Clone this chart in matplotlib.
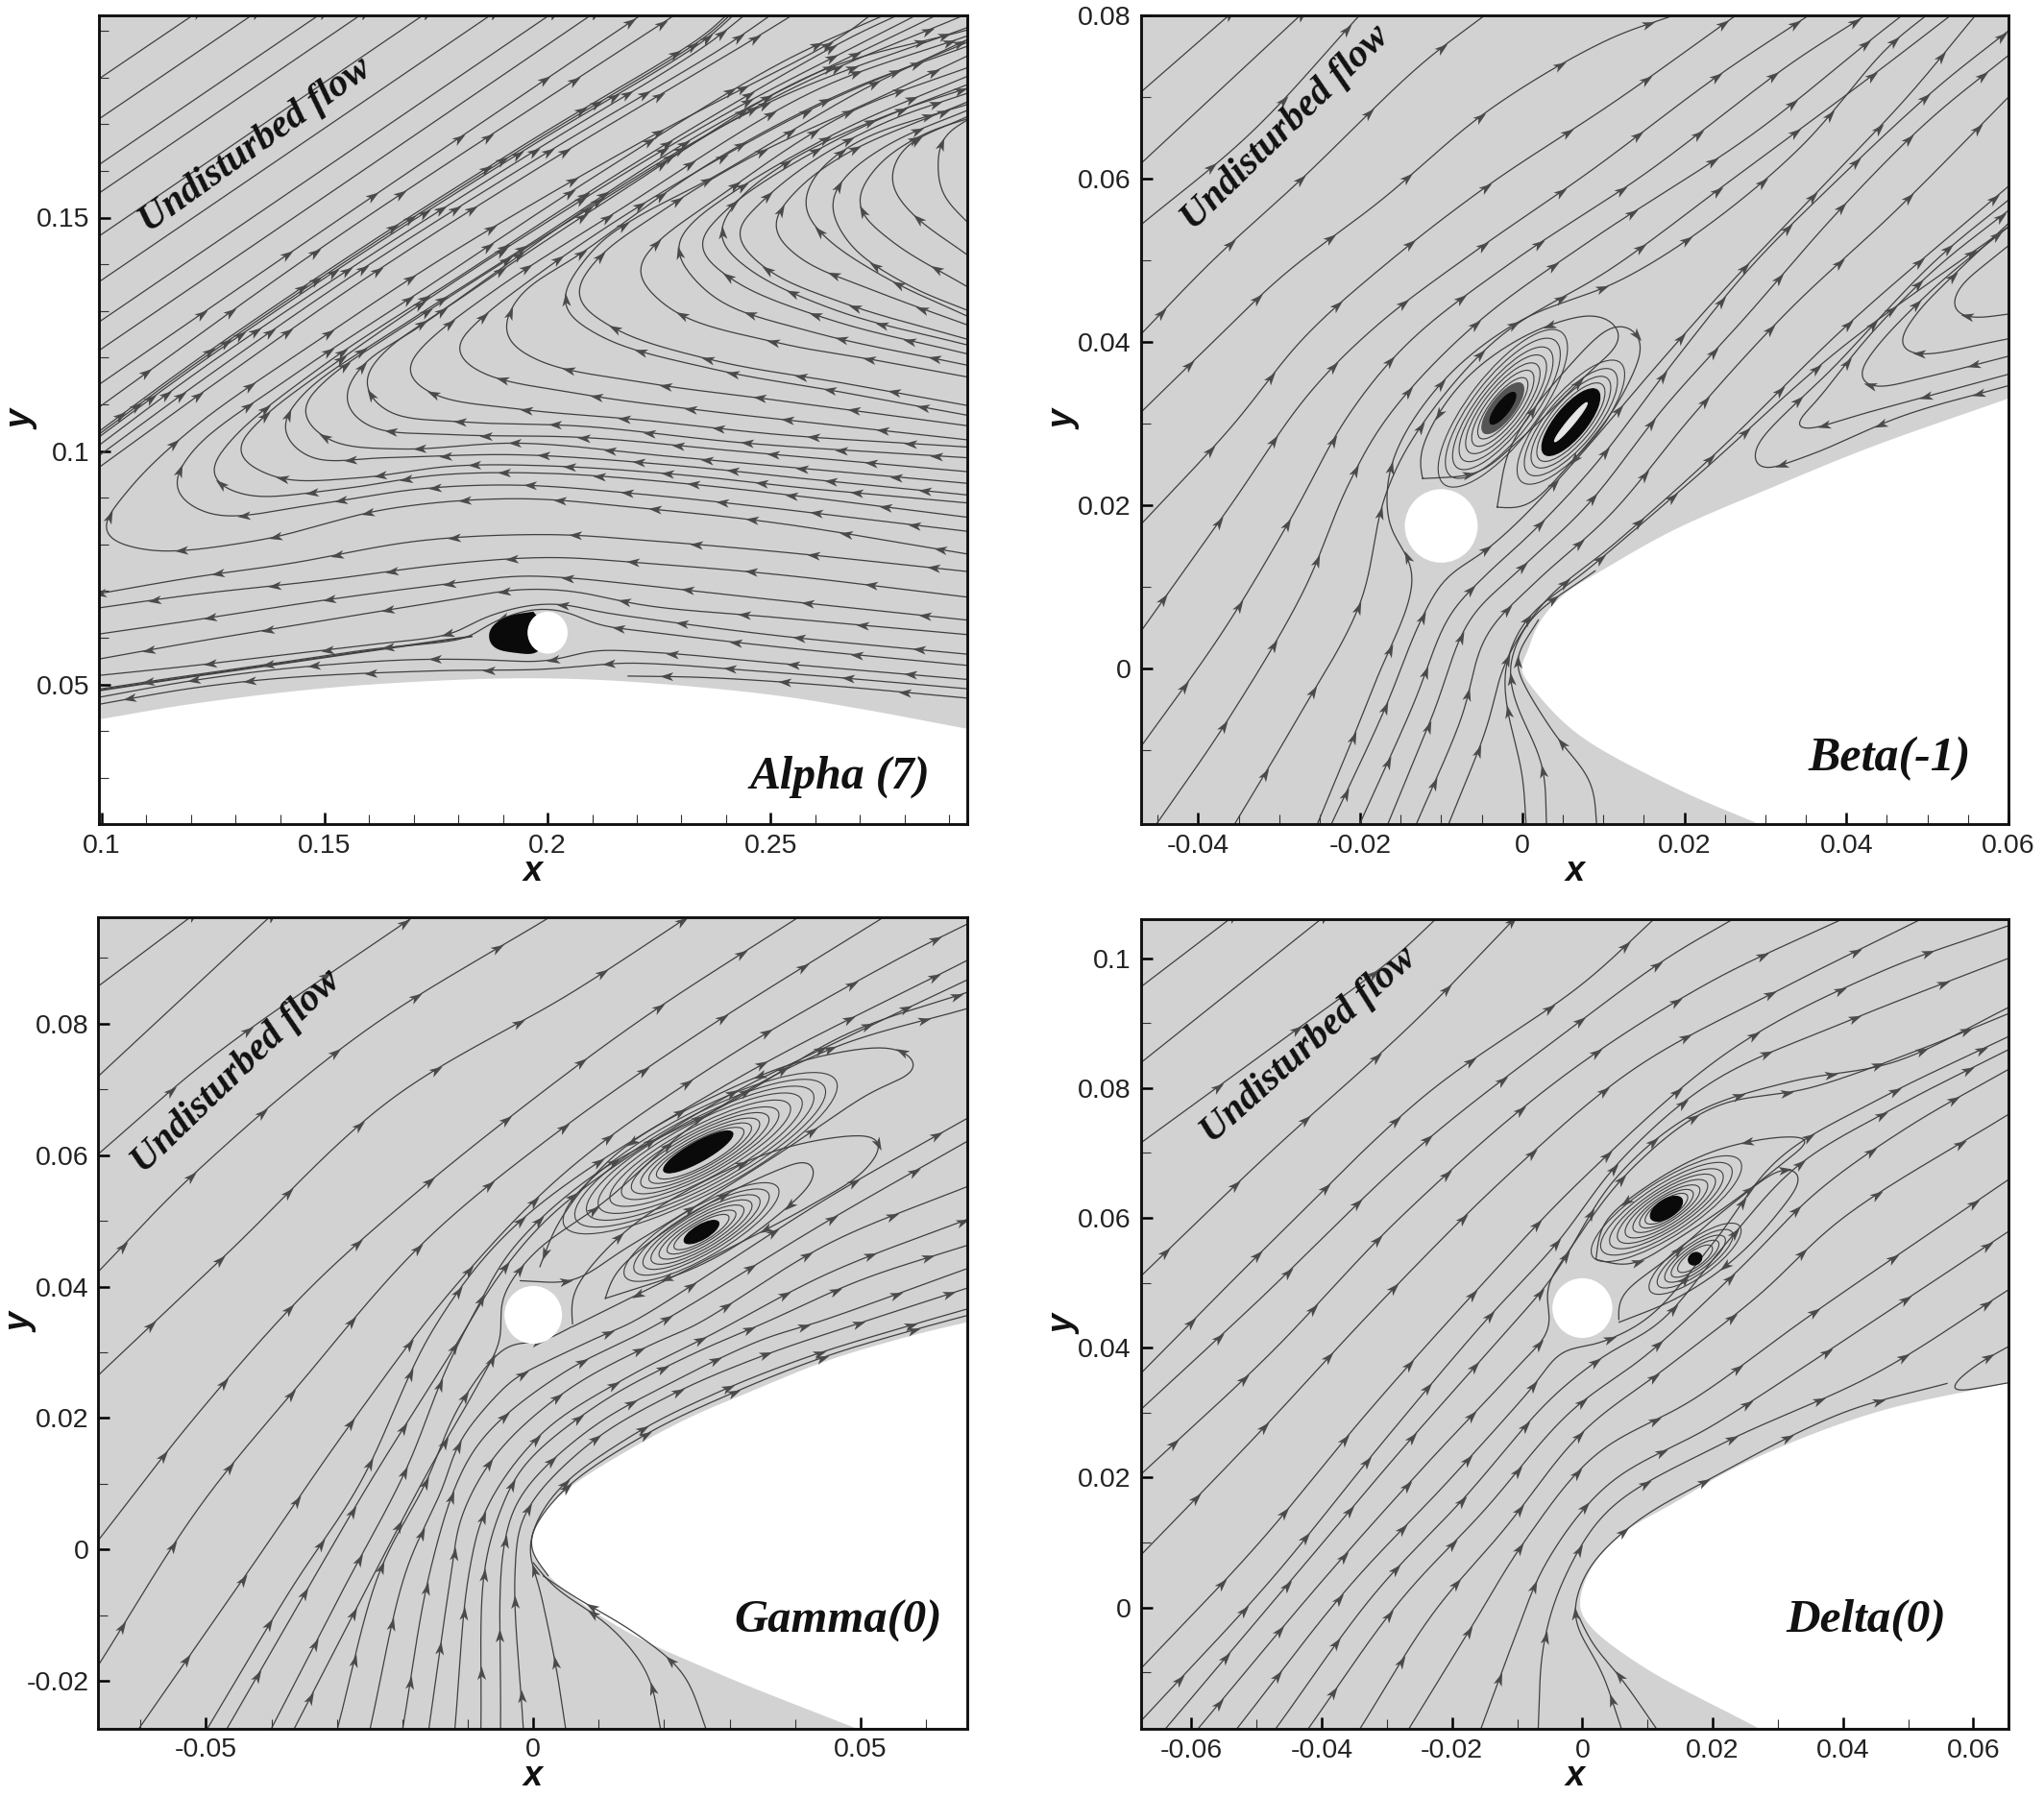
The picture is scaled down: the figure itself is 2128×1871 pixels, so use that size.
import numpy as np
import matplotlib
matplotlib.use("Agg")
import matplotlib.pyplot as plt
from matplotlib.patches import Ellipse, Polygon
from matplotlib.markers import MarkerStyle
from matplotlib.path import Path
from matplotlib.transforms import Affine2D
from matplotlib.ticker import FixedLocator, FixedFormatter

plt.rcParams['font.family'] = ['Liberation Sans', 'DejaVu Sans']

# ---------- Panel A ----------
A_xlim = (0.0994, 0.2941); A_ylim = (0.0201, 0.1933)
A_xticks = [0.1, 0.15, 0.2, 0.25]; A_xlabels = ['0.1', '0.15', '0.2', '0.25']
A_yticks = [0.05, 0.1, 0.15]; A_ylabels = ['0.05', '0.1', '0.15']
A_xminor = [0.11,0.12,0.13,0.14,0.16,0.17,0.18,0.19,0.21,0.22,0.23,0.24,0.26,0.27,0.28,0.29]
A_yminor = [0.03,0.04,0.06,0.07,0.08,0.09,0.11,0.12,0.13,0.14,0.16,0.17,0.18,0.19]
A_body = [(0.0994,0.0425),(0.12,0.0458),(0.15,0.0492),(0.18,0.0510),(0.20,0.0513),(0.22,0.0505),(0.25,0.0478),(0.27,0.0448),(0.2941,0.0405)]
A_circle = (0.2, 0.0611, 0.0045)
A_wake = [(0.1968,0.0656),(0.1907,0.0645),(0.1870,0.0619),(0.1868,0.0594),(0.1879,0.0578),(0.1935,0.0567),(0.1977,0.0567),(0.2,0.0611)]
A_free = [
 [(0.098,0.1788),(0.1215,0.1940)],
 [(0.098,0.1702),(0.1347,0.1940)],
 [(0.098,0.1604),(0.1497,0.1940)],
 [(0.098,0.1543),(0.1590,0.1940)],
 [(0.098,0.1451),(0.1731,0.1940)],
 [(0.098,0.1353),(0.1882,0.1940)],
 [(0.098,0.1267),(0.2014,0.1940)],
 [(0.098,0.1206),(0.2107,0.1940)],
 [(0.098,0.1133),(0.150,0.1475),(0.2219,0.1940)],
 [(0.098,0.1084),(0.150,0.1440),(0.2295,0.1940)],
]
A_band = [
 [(0.098,0.1032),(0.1216,0.1197),(0.1585,0.1436),(0.1966,0.1667),(0.2354,0.1893),(0.2408,0.1940)],
 [(0.098,0.1026),(0.1216,0.1191),(0.1585,0.1430),(0.1966,0.1661),(0.2354,0.1887),(0.2416,0.1940)],
 [(0.098,0.1020),(0.1216,0.1185),(0.1585,0.1424),(0.1966,0.1655),(0.2354,0.1881),(0.2424,0.1940)],
 [(0.098,0.1002),(0.1216,0.1170),(0.1585,0.1408),(0.1966,0.1640),(0.2354,0.1868),(0.2450,0.1940)],
 [(0.098,0.0980),(0.1230,0.1155),(0.1585,0.1390),(0.2000,0.1640),(0.2400,0.1868),(0.2510,0.1940)],
 [(0.098,0.0955),(0.1240,0.1135),(0.1600,0.1375),(0.2020,0.1630),(0.2420,0.1858),(0.2560,0.1940)],
]
A_turn = [
 [(0.295,0.0778),(0.2520,0.0845),(0.2227,0.0876),(0.1934,0.0898),(0.1641,0.0876),(0.1348,0.0808),(0.1100,0.0788),(0.1004,0.0827),(0.1056,0.0912),(0.1202,0.1047),(0.1495,0.1243),(0.1788,0.1427),(0.2227,0.1671),(0.2666,0.1892),(0.2732,0.1940)],
 [(0.295,0.0827),(0.2520,0.0876),(0.2227,0.0906),(0.1934,0.0927),(0.1714,0.0919),(0.1495,0.0888),(0.1246,0.0864),(0.1165,0.0919),(0.1202,0.0998),(0.1422,0.1157),(0.1714,0.1341),(0.2081,0.1573),(0.2520,0.1830),(0.2770,0.1940)],
 [(0.295,0.0857),(0.2593,0.0900),(0.2300,0.0931),(0.2007,0.0952),(0.1758,0.0949),(0.1539,0.0919),(0.1319,0.0906),(0.1246,0.0949),(0.1290,0.1023),(0.1495,0.1182),(0.1788,0.1365),(0.2227,0.1635),(0.2666,0.1879),(0.2800,0.1940)],
 [(0.295,0.0888),(0.2593,0.0919),(0.2300,0.0949),(0.2007,0.0968),(0.1788,0.0968),(0.1583,0.0943),(0.1392,0.0943),(0.1305,0.0998),(0.1348,0.1059),(0.1568,0.1218),(0.1934,0.1451),(0.2373,0.1708),(0.2840,0.1940)],
 [(0.295,0.0905),(0.2593,0.0939),(0.2300,0.0968),(0.1934,0.0992),(0.1641,0.0986),(0.1466,0.0986),(0.1407,0.1047),(0.1451,0.1121),(0.1671,0.1267),(0.1934,0.1427),(0.2373,0.1696),(0.2886,0.1940)],
 [(0.295,0.0930),(0.2300,0.0986),(0.1934,0.1017),(0.1671,0.1004),(0.1510,0.1023),(0.1451,0.1084),(0.1495,0.1145),(0.1700,0.1280),(0.2081,0.1512),(0.2520,0.1763),(0.2950,0.1940)],
 [(0.295,0.0955),(0.2443,0.0998),(0.2081,0.1029),(0.1788,0.1035),(0.1598,0.1053),(0.1546,0.1108),(0.1583,0.1182),(0.1714,0.1267),(0.2154,0.1561),(0.2520,0.1757),(0.295,0.1910)],
 [(0.295,0.0985),(0.2443,0.1017),(0.2081,0.1053),(0.1817,0.1062),(0.1641,0.1084),(0.1590,0.1145),(0.1627,0.1206),(0.1788,0.1316),(0.2154,0.1549),(0.2593,0.1806),(0.295,0.1904)],
 [(0.295,0.1008),(0.2520,0.1035),(0.2227,0.1065),(0.1934,0.1090),(0.1744,0.1121),(0.1685,0.1170),(0.1714,0.1218),(0.1876,0.1341),(0.2154,0.1512),(0.2593,0.1769),(0.295,0.1892)],
 [(0.295,0.1023),(0.2666,0.1053),(0.2373,0.1084),(0.2081,0.1121),(0.1846,0.1170),(0.1795,0.1218),(0.1832,0.1267),(0.1978,0.1378),(0.2227,0.1537),(0.2593,0.1733),(0.295,0.1879)],
 [(0.295,0.1053),(0.2520,0.1108),(0.2227,0.1145),(0.1978,0.1194),(0.1905,0.1250),(0.1934,0.1329),(0.2081,0.1427),(0.2373,0.1622),(0.2666,0.1769),(0.295,0.1870)],
 [(0.295,0.1075),(0.2666,0.1125),(0.2373,0.1175),(0.2120,0.1245),(0.2035,0.1316),(0.2104,0.1433),(0.2190,0.1495),(0.2365,0.1583),(0.2537,0.1680),(0.2709,0.1775),(0.295,0.1885)],
 [(0.295,0.1096),(0.2666,0.1145),(0.2373,0.1194),(0.2150,0.1262),(0.2066,0.1332),(0.2110,0.1410),(0.2250,0.1510),(0.2447,0.1625),(0.2739,0.1755),(0.295,0.1850)],
 [(0.295,0.1157),(0.2739,0.1194),(0.2520,0.1231),(0.2285,0.1298),(0.2203,0.1384),(0.2235,0.1437),(0.2373,0.1537),(0.2666,0.1720),(0.295,0.1824)],
 [(0.295,0.1182),(0.2593,0.1255),(0.2373,0.1329),(0.2289,0.1433),(0.2315,0.1480),(0.2417,0.1555),(0.2666,0.1690),(0.295,0.1806)],
 [(0.295,0.1206),(0.2637,0.1280),(0.2417,0.1365),(0.2341,0.1440),(0.2388,0.1505),(0.2490,0.1580),(0.2710,0.1696),(0.295,0.1788)],
 [(0.295,0.1225),(0.2650,0.1300),(0.2450,0.1390),(0.2386,0.1460),(0.2420,0.1530),(0.2540,0.1620),(0.2750,0.1715),(0.295,0.1780)],
 [(0.295,0.1237),(0.2666,0.1316),(0.2490,0.1390),(0.2425,0.1466),(0.2476,0.1530),(0.2593,0.1620),(0.2760,0.1705),(0.295,0.1769)],
 [(0.295,0.1267),(0.2739,0.1341),(0.2564,0.1414),(0.2507,0.1481),(0.2549,0.1549),(0.2666,0.1635),(0.295,0.1751)],
 [(0.295,0.1285),(0.2760,0.1370),(0.2620,0.1460),(0.2576,0.1522),(0.2600,0.1590),(0.2700,0.1665),(0.295,0.1745)],
 [(0.295,0.1298),(0.2813,0.1353),(0.2681,0.1439),(0.2636,0.1528),(0.2666,0.1586),(0.2769,0.1659),(0.295,0.1733)],
 [(0.295,0.1347),(0.2769,0.1451),(0.2696,0.1528),(0.2739,0.1610),(0.2842,0.1678),(0.295,0.1714)],
 [(0.295,0.1414),(0.2813,0.1512),(0.2770,0.1577),(0.2798,0.1647),(0.295,0.1720)],
 [(0.295,0.1482),(0.2886,0.1549),(0.2875,0.1604),(0.2886,0.1671),(0.295,0.1714)],
]
A_low = [
 [(0.295,0.0741),(0.2520,0.0784),(0.2227,0.0808),(0.2007,0.0821),(0.1714,0.0808),(0.1422,0.0759),(0.1202,0.0729),(0.098,0.0692)],
 [(0.295,0.0686),(0.2520,0.0735),(0.2227,0.0759),(0.2007,0.0772),(0.1788,0.0759),(0.1495,0.0723),(0.1202,0.0692),(0.098,0.0662)],
 [(0.295,0.0637),(0.2520,0.0680),(0.2227,0.0711),(0.2051,0.0728),(0.1934,0.0732),(0.1788,0.0717),(0.1495,0.0680),(0.1202,0.0637),(0.098,0.0606)],
 [(0.295,0.0606),(0.2520,0.0643),(0.2227,0.0668),(0.2051,0.0700),(0.1934,0.0703),(0.1788,0.0682),(0.1422,0.0625),(0.1202,0.0590),(0.098,0.0552)],
 [(0.295,0.0564),(0.2520,0.0604),(0.2227,0.0640),(0.2120,0.0655),(0.2030,0.0672),(0.1950,0.0668),(0.1850,0.0640),(0.1790,0.0610),(0.1600,0.0585),(0.1422,0.0565),(0.1202,0.0540),(0.098,0.0518)],
 [(0.295,0.0540),(0.2520,0.0580),(0.2250,0.0610),(0.2105,0.0630),(0.2060,0.0650),(0.2020,0.0660),(0.1960,0.0660),(0.1860,0.0625),(0.1830,0.0603),(0.1600,0.0575),(0.1422,0.0550),(0.1202,0.0520),(0.098,0.0488)],
 [(0.295,0.0510),(0.2520,0.0545),(0.2250,0.0568),(0.2100,0.0572),(0.2040,0.0558),(0.1980,0.0549),(0.1860,0.0553),(0.1690,0.0553),(0.1422,0.0535),(0.1202,0.0508),(0.098,0.0470)],
 [(0.295,0.0490),(0.2520,0.0525),(0.2180,0.0546),(0.2090,0.0540),(0.1980,0.0532),(0.1780,0.0530),(0.1422,0.0515),(0.1202,0.0492),(0.098,0.0455)],
 [(0.295,0.0470),(0.2600,0.0500),(0.2350,0.0515),(0.2180,0.0518)],
]
A_thin = [(0.1830,0.0603),(0.1600,0.0572),(0.1422,0.0547),(0.1202,0.0517),(0.098,0.0485)]

# ---------- Panel B ----------
B_xlim = (-0.0471, 0.0600); B_ylim = (-0.0190, 0.0800)
B_xticks = [-0.04,-0.02,0,0.02,0.04,0.06]; B_xlabels = ['-0.04','-0.02','0','0.02','0.04','0.06']
B_yticks = [0,0.02,0.04,0.06,0.08]; B_ylabels = ['0','0.02','0.04','0.06','0.08']
B_xminor = [-0.045,-0.035,-0.03,-0.025,-0.015,-0.01,-0.005,0.005,0.01,0.015,0.025,0.03,0.035,0.045,0.05,0.055]
B_yminor = [-0.01,0.01,0.03,0.05,0.07]
B_body = [(0.0292,-0.0190),(0.0187,-0.0145),(0.0066,-0.0078),(0.0010,-0.0020),(-0.0002,0.0),(0.0006,0.0020),(0.0020,0.0055),(0.0050,0.0090),(0.0106,0.0125),(0.0187,0.0170),(0.0308,0.0222),(0.0429,0.0271),(0.0600,0.0331)]
B_circle = (-0.0100, 0.0175, 0.0045)
B_lines = [
 [(-0.048,0.0698),(-0.0361,0.0801)],
 [(-0.048,0.0610),(-0.0273,0.0801)],
 [(-0.048,0.0536),(-0.0335,0.0656),(-0.0200,0.0801)],
 [(-0.048,0.0400),(-0.0382,0.0500),(-0.0272,0.0600),(-0.0125,0.0740),(-0.0045,0.0801)],
 [(-0.048,0.0305),(-0.0385,0.0397),(-0.0295,0.0482),(-0.0175,0.0573),(-0.0040,0.0685),(0.0105,0.0770),(0.0190,0.0801)],
 [(-0.048,0.0167),(-0.0360,0.0295),(-0.0270,0.0405),(-0.0175,0.0490),(-0.0045,0.0590),(0.0115,0.0695),(0.0265,0.0801)],
 [(-0.048,0.0033),(-0.0360,0.0200),(-0.0265,0.0335),(-0.0180,0.0420),(-0.0060,0.0510),(0.0085,0.0610),(0.0240,0.0725),(0.0355,0.0801)],
 [(-0.048,-0.0108),(-0.0370,0.0045),(-0.0285,0.0185),(-0.0215,0.0310),(-0.0140,0.0400),(-0.0010,0.0500),(0.0150,0.0605),(0.0330,0.0740),(0.0425,0.0801)],
 [(-0.0455,-0.0195),(-0.0365,-0.0065),(-0.0270,0.0095),(-0.0215,0.0225),(-0.0165,0.0310),(-0.0060,0.0420),(0.0085,0.0525),(0.0285,0.0655),(0.0430,0.0770),(0.0470,0.0801)],
 [(-0.0358,-0.0195),(-0.0280,-0.0065),(-0.0200,0.0080),(-0.0170,0.0210),(-0.0130,0.0290),(-0.0030,0.0405),(0.0110,0.0490),(0.0260,0.0600),(0.0430,0.0725),(0.0530,0.0801)],
 [(-0.0255,-0.0195),(-0.0185,-0.0025),(-0.0135,0.0115),(-0.0165,0.0180),(-0.0160,0.0255),(-0.0100,0.0350),(-0.0005,0.0425),(0.0120,0.0475),(0.0225,0.0540),(0.0345,0.0640),(0.0450,0.0760),(0.0500,0.0801)],
 [(-0.0238,-0.0195),(-0.0170,-0.0050),(-0.0125,0.0060),(-0.0095,0.0110),(-0.0045,0.0145),(0.0000,0.0185),(0.0070,0.0260),(0.0165,0.0370),(0.0250,0.0465),(0.0370,0.0590),(0.0475,0.0700),(0.0560,0.0801)],
 [(-0.0203,-0.0195),(-0.0135,-0.0045),(-0.0090,0.0065),(-0.0050,0.0110),(0.0015,0.0170),(0.0090,0.0250),(0.0190,0.0380),(0.0280,0.0490),(0.0380,0.0590),(0.0510,0.0710),(0.0605,0.0785)],
 [(-0.0168,-0.0195),(-0.0110,-0.0055),(-0.0065,0.0060),(-0.0005,0.0120),(0.0080,0.0200),(0.0175,0.0320),(0.0275,0.0430),(0.0390,0.0560),(0.0500,0.0670),(0.0605,0.0755)],
 [(-0.0133,-0.0195),(-0.0075,-0.0060),(-0.0045,0.0040),(0.0015,0.0105),(0.0110,0.0190),(0.0210,0.0310),(0.0330,0.0440),(0.0460,0.0560),(0.0605,0.0705)],
 [(-0.0093,-0.0195),(-0.0045,-0.0075),(-0.0020,0.0010),(0.0030,0.0085),(0.0110,0.0150),(0.0240,0.0265),(0.0400,0.0420),(0.0605,0.0595)],
 [(0.0005,-0.0195),(0.0000,-0.0130),(-0.0020,-0.0040),(-0.0020,0.0005),(0.0005,0.0060),(0.0085,0.0125),(0.0220,0.0240),(0.0390,0.0390),(0.0605,0.0545)],
 [(0.0030,-0.0195),(0.0025,-0.0120),(-0.0010,-0.0035),(-0.0015,0.0005),(0.0010,0.0060),(0.0090,0.0120)],
 [(0.0092,-0.0195),(0.0085,-0.0140),(0.0040,-0.0080),(0.0000,-0.0015),(-0.0008,0.0010),(0.0020,0.0060)],
]
B_turn = [
 [(0.0605,0.0348),(0.0470,0.0310),(0.0350,0.0260),(0.0290,0.0245),(0.0285,0.0265),(0.0390,0.0375),(0.0510,0.0500),(0.0605,0.0578)],
 [(0.0605,0.0362),(0.0430,0.0315),(0.0350,0.0293),(0.0335,0.0295),(0.0365,0.0330),(0.0430,0.0410),(0.0510,0.0490),(0.0605,0.0565)],
 [(0.0605,0.0384),(0.0510,0.0360),(0.0430,0.0345),(0.0415,0.0355),(0.0430,0.0385),(0.0510,0.0468),(0.0605,0.0545)],
 [(0.0605,0.0405),(0.0485,0.0385),(0.0465,0.0395),(0.0485,0.0433),(0.0525,0.0475),(0.0605,0.0550)],
 [(0.0605,0.0435),(0.0550,0.0430),(0.0530,0.0440),(0.0540,0.0468),(0.0565,0.0490),(0.0605,0.0522)],
]
B_lobes = [
 [(-0.0123,0.0233),(-0.0055,0.0240),(-0.0006,0.0278),(0.0074,0.0355),(0.0123,0.0408),(0.0098,0.0432),(0.0026,0.0418),(-0.0055,0.0369),(-0.0103,0.0313),(-0.0127,0.0257),(-0.0123,0.0233)],
 [(-0.0031,0.0198),(-0.0015,0.0271),(0.0050,0.0362),(0.0119,0.0422),(0.0147,0.0404),(0.0123,0.0334),(0.0058,0.0250),(0.0002,0.0198),(-0.0031,0.0198)],
]
B_rings_left = [(-0.0024,0.0319,0.0118,0.0042),(-0.0024,0.0319,0.0105,0.0037),(-0.0024,0.0319,0.0092,0.0032),(-0.0024,0.0319,0.0080,0.0028),(-0.0024,0.0319,0.0068,0.0024),(-0.0024,0.0319,0.0057,0.0020),(-0.0024,0.0319,0.0046,0.0016),(-0.0024,0.0319,0.0036,0.0013)]
B_rings_right = [(0.0060,0.0302,0.0095,0.0034),(0.0060,0.0302,0.0082,0.0030),(0.0060,0.0302,0.0070,0.0026),(0.0060,0.0302,0.0060,0.0022)]
B_halo_left = (-0.0024, 0.0319, 0.0038, 0.0014)
B_core_left = (-0.0024, 0.0319, 0.0024, 0.0008)
B_core_right = (0.0060, 0.0302, 0.0051, 0.0019)
B_slit_right = (0.0060, 0.0302, 0.0031, 0.0004)

# ---------- Panel C ----------
C_xlim = (-0.0665, 0.0663); C_ylim = (-0.0272, 0.0962)
C_xticks = [-0.05,0,0.05]; C_xlabels = ['-0.05','0','0.05']
C_yticks = [-0.02,0,0.02,0.04,0.06,0.08]; C_ylabels = ['-0.02','0','0.02','0.04','0.06','0.08']
C_xminor = [-0.06,-0.04,-0.03,-0.02,-0.01,0.01,0.02,0.03,0.04,0.06]
C_yminor = [-0.01,0.01,0.03,0.05,0.07,0.09]
C_body = [(0.0493,-0.0272),(0.0279,-0.0187),(0.0129,-0.0117),(0.0023,-0.0039),(-0.0003,0.0005),(0.0014,0.0054),(0.0054,0.0093),(0.0138,0.0147),(0.0237,0.0200),(0.0336,0.0242),(0.0451,0.0288),(0.0584,0.0327),(0.0663,0.0346)]
C_circle = (0.0, 0.0357, 0.0044)
C_lines = [
 [(-0.067,0.0853),(-0.0520,0.0965)],
 [(-0.067,0.0715),(-0.0400,0.0965)],
 [(-0.067,0.0597),(-0.0490,0.0750),(-0.0180,0.0965)],
 [(-0.067,0.0417),(-0.0520,0.0570),(-0.0260,0.0787),(0.0030,0.0965)],
 [(-0.067,0.0260),(-0.0470,0.0448),(-0.0220,0.0683),(0.0060,0.0848),(0.0240,0.0965)],
 [(-0.067,0.0007),(-0.0518,0.0200),(-0.0349,0.0390),(-0.0200,0.0525),(-0.0020,0.0670),(0.0170,0.0810),(0.0410,0.0965)],
 [(-0.067,-0.0185),(-0.0510,0.0065),(-0.0360,0.0248),(-0.0170,0.0465),(0.0030,0.0630),(0.0260,0.0790),(0.0540,0.0965)],
 [(-0.0605,-0.0276),(-0.0440,-0.0040),(-0.0280,0.0190),(-0.0120,0.0400),(0.0050,0.0575),(0.0290,0.0745),(0.0560,0.0900),(0.0670,0.0955)],
 [(-0.0500,-0.0276),(-0.0370,-0.0060),(-0.0265,0.0100),(-0.0150,0.0340),(-0.0020,0.0500),(0.0300,0.0710),(0.0670,0.0900)],
 [(-0.0470,-0.0276),(-0.0345,-0.0060),(-0.0245,0.0110),(-0.0125,0.0300),(-0.0050,0.0420),(0.0040,0.0520),(0.0270,0.0675),(0.0480,0.0780),(0.0670,0.0870)],
 [(-0.0402,-0.0276),(-0.0290,-0.0060),(-0.0195,0.0120),(-0.0135,0.0270),(-0.0090,0.0360),(-0.0030,0.0460),(0.0100,0.0575),(0.0300,0.0680),(0.0480,0.0785),(0.0670,0.0850)],
 [(-0.0367,-0.0276),(-0.0255,-0.0060),(-0.0160,0.0120),(-0.0085,0.0250),(-0.0050,0.0320),(-0.0048,0.0380),(0.0000,0.0450),(0.0110,0.0530),(0.0250,0.0650),(0.0450,0.0760),(0.0670,0.0825)],
 [(-0.0300,-0.0276),(-0.0235,-0.0034),(-0.0165,0.0100),(-0.0110,0.0224),(-0.0036,0.0312),(0.0009,0.0315),(0.0059,0.0339)],
 [(-0.0250,-0.0276),(-0.0195,-0.0034),(-0.0140,0.0090),(-0.0110,0.0168),(-0.0031,0.0259),(-0.0016,0.0268),(0.0108,0.0327),(0.0148,0.0344),(0.0450,0.0535),(0.0670,0.0660)],
 [(-0.0200,-0.0276),(-0.0158,-0.0034),(-0.0110,0.0117),(-0.0065,0.0183),(0.0049,0.0271),(0.0183,0.0339),(0.0450,0.0500),(0.0670,0.0625)],
 [(-0.0160,-0.0276),(-0.0125,-0.0034),(-0.0110,0.0049),(-0.0056,0.0146),(0.0054,0.0244),(0.0187,0.0315),(0.0247,0.0341),(0.0450,0.0465),(0.0670,0.0555)],
 [(-0.0120,-0.0276),(-0.0098,-0.0034),(-0.0070,0.0066),(0.0014,0.0178),(0.0138,0.0259),(0.0272,0.0327),(0.0450,0.0420),(0.0670,0.0505)],
 [(-0.0080,-0.0276),(-0.0075,-0.0034),(-0.0050,0.0060),(-0.0013,0.0129),(0.0101,0.0222),(0.0234,0.0293),(0.0356,0.0346),(0.0500,0.0410),(0.0670,0.0465)],
 [(-0.0050,-0.0276),(-0.0045,0.0005),(-0.0018,0.0083),(0.0086,0.0183),(0.0215,0.0256),(0.0351,0.0320),(0.0435,0.0346),(0.0670,0.0430)],
 [(-0.0015,-0.0276),(-0.0028,-0.0034),(-0.0013,0.0054),(0.0083,0.0159),(0.0212,0.0236),(0.0351,0.0295),(0.0500,0.0345),(0.0670,0.0400)],
 [(0.0050,-0.0276),(0.0035,-0.0180),(0.0010,-0.0060),(-0.0006,0.0005),(0.0031,0.0083),(0.0150,0.0173),(0.0286,0.0241),(0.0425,0.0295),(0.0569,0.0339),(0.0670,0.0368)],
 [(0.0023,-0.0040),(-0.0006,0.0008),(0.0039,0.0083),(0.0168,0.0173),(0.0311,0.0241),(0.0450,0.0295),(0.0599,0.0339),(0.0670,0.0358)],
 [(0.0195,-0.0276),(0.0175,-0.0190),(0.0120,-0.0120),(0.0030,-0.0055),(0.0000,-0.0020)],
 [(0.0265,-0.0276),(0.0230,-0.0190),(0.0160,-0.0130),(0.0060,-0.0070),(0.0015,-0.0040)],
]
C_lobes = [
 [(-0.0020,0.0409),(0.0060,0.0409),(0.0139,0.0457),(0.0239,0.0517),(0.0378,0.0604),(0.0508,0.0691),(0.0588,0.0735),(0.0558,0.0761),(0.0428,0.0748),(0.0279,0.0691),(0.0129,0.0604),(0.0040,0.0500),(0.0010,0.0430)],
 [(0.0060,0.0343),(0.0060,0.0387),(0.0129,0.0474),(0.0229,0.0543),(0.0380,0.0610),(0.0508,0.0630),(0.0533,0.0622),(0.0508,0.0578),(0.0428,0.0526),(0.0279,0.0448),(0.0139,0.0378),(0.0060,0.0339)],
 [(0.0110,0.0382),(0.0125,0.0420),(0.0240,0.0510),(0.0380,0.0580),(0.0425,0.0592),(0.0432,0.0570),(0.0350,0.0490),(0.0250,0.0430),(0.0110,0.0382)],
]
C_rings_up = [(0.0255,0.0603,0.0235,0.0061),(0.0255,0.0603,0.0215,0.0056),(0.0255,0.0603,0.0195,0.0051),(0.0255,0.0603,0.0175,0.0046),(0.0255,0.0603,0.0155,0.0040),(0.0255,0.0603,0.0135,0.0035),(0.0255,0.0603,0.0118,0.0031),(0.0255,0.0603,0.0102,0.0027),(0.0255,0.0603,0.0088,0.0023),(0.0255,0.0603,0.0075,0.0020)]
C_rings_low = [(0.0257,0.0483,0.0135,0.0038),(0.0257,0.0483,0.0118,0.0033),(0.0257,0.0483,0.0102,0.0029),(0.0257,0.0483,0.0088,0.0025),(0.0257,0.0483,0.0074,0.0021),(0.0257,0.0483,0.0060,0.0017),(0.0257,0.0483,0.0048,0.0014)]
C_core_up = (0.0252, 0.0605, 0.0060, 0.0015)
C_core_low = (0.0257, 0.0483, 0.0030, 0.0011)

# ---------- Panel D ----------
D_xlim = (-0.0678, 0.0654); D_ylim = (-0.0187, 0.1060)
D_xticks = [-0.06,-0.04,-0.02,0,0.02,0.04,0.06]; D_xlabels = ['-0.06','-0.04','-0.02','0','0.02','0.04','0.06']
D_yticks = [0,0.02,0.04,0.06,0.08,0.1]; D_ylabels = ['0','0.02','0.04','0.06','0.08','0.1']
D_xminor = [-0.05,-0.03,-0.01,0.01,0.03,0.05]
D_yminor = [-0.01,0.01,0.03,0.05,0.07,0.09]
D_body = [(0.0272,-0.0187),(0.0091,-0.0090),(0.0011,-0.0028),(-0.0004,0.0),(0.0011,0.0056),(0.0061,0.0113),(0.0141,0.0161),(0.0242,0.0219),(0.0442,0.0298),(0.0654,0.0346)]
D_circle = (0.0, 0.0461, 0.0046)
D_lines = [
 [(-0.0685,0.0950),(-0.0535,0.1065)],
 [(-0.0685,0.0833),(-0.0395,0.1065)],
 [(-0.0685,0.0710),(-0.0480,0.0860),(-0.0290,0.1000),(-0.0220,0.1065)],
 [(-0.0685,0.0503),(-0.0480,0.0700),(-0.0260,0.0900),(-0.0100,0.1065)],
 [(-0.0685,0.0353),(-0.0470,0.0570),(-0.0240,0.0790),(0.0000,0.0960),(0.0115,0.1065)],
 [(-0.0685,0.0298),(-0.0500,0.0470),(-0.0250,0.0710),(-0.0020,0.0890),(0.0130,0.1000),(0.0240,0.1065)],
 [(-0.0685,0.0198),(-0.0480,0.0390),(-0.0280,0.0600),(-0.0040,0.0810),(0.0190,0.0960),(0.0410,0.1065)],
 [(-0.0685,0.0073),(-0.0500,0.0265),(-0.0310,0.0470),(-0.0110,0.0670),(0.0080,0.0830),(0.0300,0.0950),(0.0530,0.1065)],
 [(-0.0685,-0.0102),(-0.0500,0.0095),(-0.0330,0.0300),(-0.0170,0.0480),(0.0000,0.0660),(0.0230,0.0860),(0.0460,0.0980),(0.0660,0.1052)],
 [(-0.0685,-0.0183),(-0.0480,0.0040),(-0.0310,0.0250),(-0.0150,0.0440),(-0.0040,0.0560),(0.0060,0.0690),(0.0200,0.0810),(0.0400,0.0900),(0.0660,0.1002)],
 [(-0.0645,-0.0193),(-0.0440,0.0050),(-0.0280,0.0240),(-0.0130,0.0410),(-0.0045,0.0510),(0.0050,0.0660),(0.0170,0.0760),(0.0320,0.0810),(0.0480,0.0840),(0.0660,0.0927)],
 [(-0.0595,-0.0193),(-0.0400,0.0040),(-0.0240,0.0220),(-0.0100,0.0370),(-0.0050,0.0430),(-0.0055,0.0490),(-0.0020,0.0550),(0.0070,0.0670),(0.0200,0.0770),(0.0350,0.0800),(0.0520,0.0860),(0.0660,0.0917)],
 [(-0.0535,-0.0193),(-0.0360,0.0030),(-0.0210,0.0190),(-0.0080,0.0335),(-0.0030,0.0395),(0.0020,0.0405),(0.0100,0.0445),(0.0200,0.0560),(0.0300,0.0690),(0.0450,0.0780),(0.0660,0.0882)],
 [(-0.0475,-0.0193),(-0.0320,0.0020),(-0.0180,0.0170),(-0.0050,0.0320),(0.0030,0.0385),(0.0120,0.0440),(0.0220,0.0560),(0.0330,0.0680),(0.0480,0.0770),(0.0660,0.0862)],
 [(-0.0425,-0.0193),(-0.0280,0.0010),(-0.0150,0.0150),(-0.0020,0.0300),(0.0100,0.0390),(0.0240,0.0520),(0.0360,0.0640),(0.0500,0.0740),(0.0660,0.0832)],
 [(-0.0345,-0.0193),(-0.0230,-0.0010),(-0.0120,0.0120),(0.0000,0.0270),(0.0130,0.0370),(0.0270,0.0480),(0.0400,0.0600),(0.0660,0.0763)],
 [(-0.0270,-0.0193),(-0.0170,-0.0030),(-0.0090,0.0100),(0.0020,0.0235),(0.0170,0.0320),(0.0350,0.0450),(0.0660,0.0663)],
 [(-0.0158,-0.0193),(-0.0105,-0.0050),(-0.0055,0.0070),(0.0040,0.0190),(0.0200,0.0280),(0.0400,0.0410),(0.0660,0.0583)],
 [(-0.0068,-0.0193),(-0.0060,-0.0060),(-0.0030,0.0040),(0.0040,0.0150),(0.0210,0.0250),(0.0450,0.0360),(0.0660,0.0493)],
 [(0.0062,-0.0193),(0.0030,-0.0100),(-0.0008,-0.0030),(-0.0012,0.0000),(0.0010,0.0060),(0.0080,0.0130),(0.0200,0.0200),(0.0400,0.0300),(0.0560,0.0345)],
 [(0.0118,-0.0193),(0.0060,-0.0110),(0.0015,-0.0055),(-0.0005,-0.0015)],
 [(0.0660,0.0347),(0.0590,0.0335),(0.0562,0.0333),(0.0600,0.0370),(0.0660,0.0405)],
]
D_lobes = [
 [(0.0021,0.0536),(0.0071,0.0527),(0.0150,0.0570),(0.0242,0.0633),(0.0342,0.0712),(0.0352,0.0721),(0.0312,0.0725),(0.0202,0.0703),(0.0101,0.0650),(0.0031,0.0589),(0.0021,0.0536)],
 [(0.0056,0.0443),(0.0056,0.0474),(0.0141,0.0545),(0.0222,0.0615),(0.0312,0.0677),(0.0337,0.0668),(0.0292,0.0597),(0.0222,0.0527),(0.0141,0.0474),(0.0056,0.0439)],
]
D_rings_up = [(0.0129,0.0614,0.0135,0.0042),(0.0129,0.0614,0.0118,0.0037),(0.0129,0.0614,0.0102,0.0032),(0.0129,0.0614,0.0088,0.0028),(0.0129,0.0614,0.0074,0.0024),(0.0129,0.0614,0.0060,0.0020),(0.0129,0.0614,0.0048,0.0017),(0.0129,0.0614,0.0038,0.0014)]
D_rings_low = [(0.0173,0.0537,0.0085,0.0028),(0.0173,0.0537,0.0070,0.0023),(0.0173,0.0537,0.0056,0.0019),(0.0173,0.0537,0.0044,0.0015),(0.0173,0.0537,0.0032,0.0012)]
D_core_up = (0.0129, 0.0614, 0.0028, 0.0014)
D_core_low = (0.0173, 0.0537, 0.0011, 0.0009)

GREY = '#d2d2d2'
LINE = '#404040'
LW = 0.9
W, H = 2128, 1871
fig = plt.figure(figsize=(W/100, H/100), dpi=100)
fig.patch.set_facecolor('white')

ARROW = Path([(1.0,0.0),(-0.9,0.62),(-0.4,0.0),(-0.9,-0.62),(1.0,0.0)],
             [Path.MOVETO,Path.LINETO,Path.LINETO,Path.LINETO,Path.CLOSEPOLY])

def spline(px, n=14):
    p = np.asarray(px, float)
    if len(p) < 3:
        return p
    p = np.vstack([2*p[0]-p[1], p, 2*p[-1]-p[-2]])
    out = []
    for i in range(1, len(p)-2):
        p0,p1,p2,p3 = p[i-1],p[i],p[i+1],p[i+2]
        t0 = 0.0
        t1 = t0+max(np.linalg.norm(p1-p0),1e-6)**0.5
        t2 = t1+max(np.linalg.norm(p2-p1),1e-6)**0.5
        t3 = t2+max(np.linalg.norm(p3-p2),1e-6)**0.5
        t = np.linspace(t1,t2,n,endpoint=False)[:,None]
        a1=(t1-t)/(t1-t0)*p0+(t-t0)/(t1-t0)*p1
        a2=(t2-t)/(t2-t1)*p1+(t-t1)/(t2-t1)*p2
        a3=(t3-t)/(t3-t2)*p2+(t-t2)/(t3-t2)*p3
        b1=(t2-t)/(t2-t0)*a1+(t-t0)/(t2-t0)*a2
        b2=(t3-t)/(t3-t1)*a2+(t-t1)/(t3-t1)*a3
        out.append((t2-t)/(t2-t1)*b1+(t-t1)/(t2-t1)*b2)
    out.append(p[-2][None,:])
    return np.vstack(out)

def fair(px, window=24):
    """Takes the hand-tracing wobble out of a spline, in pixel space."""
    p = spline(px)
    if len(p) < 3:
        return p
    s = np.r_[0,np.cumsum(np.hypot(*np.diff(p,axis=0).T))]
    u = np.arange(0,s[-1],3.0)
    u = np.r_[u,s[-1]]
    q = np.c_[np.interp(u,s,p[:,0]),np.interp(u,s,p[:,1])]
    k = max(int(window/3)|1,3)
    if len(q) <= 2*k:
        return q
    ker = np.ones(k)/k
    for _ in range(2):
        h = k//2
        pad0 = 2*q[0]-q[1:h+1][::-1]
        pad1 = 2*q[-1]-q[-h-1:-1][::-1]
        ext = np.vstack([pad0,q,pad1])
        q = np.c_[np.convolve(ext[:,0],ker,'valid'),np.convolve(ext[:,1],ker,'valid')]
    return q

def stream(ax, pts, spacing=105, phase=0.0, lw=LW, arrows=True):
    tr = ax.transData
    px = fair(tr.transform(np.asarray(pts)))
    d = tr.inverted().transform(px)
    ax.plot(d[:,0], d[:,1], color=LINE, lw=lw, solid_capstyle='round', zorder=3)
    if not arrows:
        return
    seg = np.hypot(*np.diff(px,axis=0).T)
    s = np.r_[0,np.cumsum(seg)]
    pos = np.arange(spacing*(0.3+phase), s[-1]-8, spacing)
    for q in pos:
        i = max(min(np.searchsorted(s,q), len(px)-1),1)
        dx,dy = px[i]-px[i-1]
        xy = tr.inverted().transform(px[i])
        m = MarkerStyle(ARROW, transform=Affine2D().rotate(np.arctan2(dy,dx)))
        ax.plot([xy[0]],[xy[1]],marker=m,ms=10.5,color='#4a4a4a',mew=0,ls='none',zorder=4)

def rings(ax, items, angle):
    for cx,cy,a,b in items:
        ax.add_patch(Ellipse((cx,cy),2*a,2*b,angle=angle,fc='none',ec=LINE,lw=0.8,zorder=3))

def core(ax, item, angle, color='#0a0a0a'):
    cx,cy,a,b = item
    ax.add_patch(Ellipse((cx,cy),2*a,2*b,angle=angle,fc=color,ec=color,lw=0.8,zorder=5))

def setup(rect, xlim, ylim, xt, xl, yt, yl, xm, ym, body, circle, closing):
    L,T,R,B = rect
    ax = fig.add_axes([L/W, 1-B/H, (R-L)/W, (B-T)/H])
    ax.set_xlim(xlim); ax.set_ylim(ylim)
    ax.set_facecolor(GREY)
    ax.xaxis.set_major_locator(FixedLocator(xt)); ax.xaxis.set_major_formatter(FixedFormatter(xl))
    ax.yaxis.set_major_locator(FixedLocator(yt)); ax.yaxis.set_major_formatter(FixedFormatter(yl))
    ax.xaxis.set_minor_locator(FixedLocator(xm)); ax.yaxis.set_minor_locator(FixedLocator(ym))
    ax.tick_params(which='major',direction='in',length=8.5,width=1.8,labelsize=20.5,pad=7,labelcolor='#222222')
    ax.tick_params(which='minor',direction='in',length=7,width=0.8,color='#333333')
    for s in ax.spines.values():
        s.set_linewidth(2.1); s.set_color('#111111'); s.set_zorder(10)
    ax.set_xlabel('x',fontsize=26,fontweight='bold',fontstyle='italic',color='#111111')
    ax.set_ylabel('y',fontsize=26,fontweight='bold',fontstyle='italic',color='#111111')
    ax.xaxis.set_label_coords(0.5,-0.059); ax.yaxis.set_label_coords(-0.0885,0.5)
    ax.xaxis.label.set_verticalalignment('center'); ax.yaxis.label.set_verticalalignment('center')
    outline = ax.transData.inverted().transform(fair(ax.transData.transform(np.asarray(body)),window=15))
    ax.add_patch(Polygon(np.vstack([outline,closing]),closed=True,fc='white',ec='none',zorder=1))
    ax.add_patch(Ellipse(circle[:2],2*circle[2],2*circle[2],fc='white',ec='none',zorder=6))
    return ax

def note(ax, label, x, y, size):
    ax.text(x,y,label,transform=ax.transAxes,family='Liberation Serif',style='italic',weight='bold',
            fontsize=size,ha='center',va='center',color='#111111',zorder=8)

def free(ax, x, y, angle):
    ax.text(x,y,'Undisturbed flow',transform=ax.transAxes,family='Liberation Serif',style='italic',weight='bold',
            fontsize=29,rotation=angle,rotation_mode='anchor',ha='center',va='center',color='#111111',zorder=8)

# Panel A
a = setup((103,16,1007,858),A_xlim,A_ylim,A_xticks,A_xlabels,A_yticks,A_ylabels,A_xminor,A_yminor,A_body,A_circle,
          [(0.2941,0.0201),(0.0994,0.0201)])
for i,l in enumerate(A_free): stream(a,l,spacing=108,phase=(i*0.37)%1)
for i,l in enumerate(A_band): stream(a,l,spacing=115,phase=(i*0.17)%1)
for i,l in enumerate(A_turn): stream(a,l,spacing=100,phase=(i*0.29)%1)
for i,l in enumerate(A_low): stream(a,l,spacing=125,phase=(i*0.53)%1)
stream(a,A_thin,lw=1.4,arrows=False)
wake = a.transData.inverted().transform(fair(a.transData.transform(np.asarray(A_wake+A_wake[:1])),window=12))
a.add_patch(Polygon(wake,closed=True,fc='#0a0a0a',ec='none',zorder=5))
note(a,'Alpha (7)',0.853,0.058,34.5); free(a,0.18,0.839,35.5)

# Panel B
b = setup((1187.5,16,2091,858),B_xlim,B_ylim,B_xticks,B_xlabels,B_yticks,B_ylabels,B_xminor,B_yminor,B_body,B_circle,
          [(0.0600,-0.0190)])
for i,l in enumerate(B_lines): stream(b,l,spacing=100,phase=(i*0.37)%1)
for i,l in enumerate(B_turn): stream(b,l,spacing=110,phase=(i*0.53)%1)
for i,l in enumerate(B_lobes): stream(b,l,spacing=150,phase=(i*0.4)%1)
rings(b,B_rings_left,52); rings(b,B_rings_right,50)
core(b,B_halo_left,52,color='#555555'); core(b,B_core_left,52); core(b,B_core_right,50); core(b,B_slit_right,50,color='#e6e6e6')
note(b,'Beta(-1)',0.863,0.081,36); free(b,0.167,0.861,44.4)

# Panel C
c = setup((102,955,1007,1799.5),C_xlim,C_ylim,C_xticks,C_xlabels,C_yticks,C_ylabels,C_xminor,C_yminor,C_body,C_circle,
          [(0.0663,-0.0272)])
for i,l in enumerate(C_lines): stream(c,l,spacing=100,phase=(i*0.37)%1)
for i,l in enumerate(C_lobes): stream(c,l,spacing=150,phase=(i*0.4)%1)
rings(c,C_rings_up,28); rings(c,C_rings_low,30)
core(c,C_core_up,29); core(c,C_core_low,30)
note(c,'Gamma(0)',0.852,0.132,35); free(c,0.16,0.81,44)

# Panel D
d = setup((1187.5,957,2091,1800),D_xlim,D_ylim,D_xticks,D_xlabels,D_yticks,D_ylabels,D_xminor,D_yminor,D_body,D_circle,
          [(0.0654,-0.0187)])
for i,l in enumerate(D_lines): stream(d,l,spacing=100,phase=(i*0.37)%1)
for i,l in enumerate(D_lobes): stream(d,l,spacing=140,phase=(i*0.4)%1)
rings(d,D_rings_up,33); rings(d,D_rings_low,36)
core(d,D_core_up,33); core(d,D_core_low,36)
note(d,'Delta(0)',0.836,0.134,35.5); free(d,0.194,0.844,41.7)

fig.savefig('out.png',dpi=100)
